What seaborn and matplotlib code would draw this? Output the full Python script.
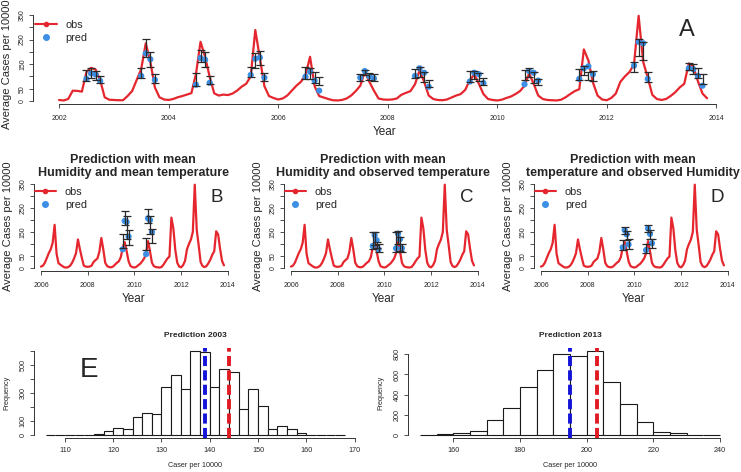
import numpy as np
import pandas as pd
import matplotlib
matplotlib.use("Agg")
import matplotlib.pyplot as plt
import seaborn as sns
from matplotlib.lines import Line2D

sns.set_style("ticks")
plt.rcParams['font.family'] = ['Liberation Sans', 'DejaVu Sans']

RED = "#e6262e"
BLUE = "#3b8fe5"

# observed monthly average cases per 10000, Jan 2002 - Nov 2013
obs = [4, 2, 8, 42, 41, 38, 118, 135, 128, 85, 15, 5,       # 2002
       4, 3, 3, 20, 40, 85, 130, 235, 160, 55, 15, 6,       # 2003
       4, 8, 15, 20, 26, 32, 110, 241, 180, 99, 31, 22,     # 2004
       26, 24, 30, 42, 58, 70, 100, 289, 175, 60, 20, 12,   # 2005
       6, 10, 22, 42, 62, 78, 105, 180, 60, 20, 14, 8,      # 2006
       3, 2, 4, 10, 22, 40, 62, 119, 78, 42, 10, 6,         # 2007
       5, 6, 10, 25, 33, 40, 68, 125, 78, 22, 8, 4,         # 2008
       3, 6, 14, 22, 28, 45, 85, 108, 70, 28, 8, 4,         # 2009
       2, 5, 12, 18, 28, 40, 62, 112, 70, 22, 8, 4,         # 2010
       3, 2, 5, 15, 28, 40, 48, 210, 165, 75, 22, 6,        # 2011
       3, 12, 30, 78, 100, 118, 150, 347, 160, 95, 25, 8,   # 2012
       4, 8, 20, 35, 55, 70, 153, 140, 80, 30, 11]          # 2013

pred_months = [7, 8, 9, 10]

# panel A: predictions Jul-Oct for each year 2002-2013
pred_years_a = list(range(2002, 2014))
pred_a = [90, 112, 108, 82,  102, 194, 170, 86,  66, 175, 168, 74,  106, 172, 177, 95,
          99, 119, 83, 42,  95, 122, 100, 92,  102, 133, 115, 58,  79, 115, 109, 73,
          68, 122, 115, 83,  90, 133, 141, 109,  144, 241, 235, 90,  133, 129, 102, 62]
lo_a = [80, 94, 86, 72,  92, 180, 140, 72,  62, 160, 140, 68,  96, 133, 147, 83,
        90, 88, 72, 63,  82, 105, 85, 80,  92, 99, 79, 56,  78, 88, 80, 65,
        85, 99, 75, 65,  85, 106, 85, 83,  119, 183, 167, 79,  126, 110, 92, 69]
hi_a = [126, 133, 123, 102,  136, 251, 200, 110,  113, 208, 198, 102,  137, 197, 205, 115,
        140, 133, 119, 96,  110, 128, 112, 108,  129, 140, 119, 85,  122, 123, 113, 92,
        126, 133, 120, 90,  129, 142, 119, 122,  160, 251, 241, 119,  156, 151, 133, 110]

# panels B-D: predictions for 2009 and 2010
pred_years_bcd = [2009, 2010]
pred_b = [78, 196, 192, 131,  58, 207, 200, 150]
lo_b = [82, 180, 120, 96,  75, 186, 140, 103]
hi_b = [140, 237, 215, 160,  126, 244, 215, 161]
pred_c = [92, 137, 116, 78,  82, 143, 120, 82]
lo_c = [80, 95, 85, 65,  65, 100, 70, 65]
hi_c = [148, 150, 110, 100,  150, 155, 130, 100]
pred_d = [86, 158, 140, 98,  75, 165, 142, 103]
lo_d = [75, 140, 115, 80,  62, 150, 120, 85]
hi_d = [118, 172, 155, 120,  98, 178, 160, 120]

titles_bcd = ["Prediction with mean\nHumidity and mean temperature",
              "Prediction with mean\nHumidity and observed temperature",
              "Prediction with mean\ntemperature and observed Humidity"]

# histograms of simulated predictions
bins_2003 = list(range(106, 170, 2))
counts_2003 = [1, 0, 1, 3, 2, 5, 26, 48, 45, 127, 155, 148, 344, 428, 328, 601,
               598, 342, 474, 450, 184, 328, 206, 41, 62, 41, 12, 3, 3, 1, 1]
mean_2003, obs_2003 = 139.0, 144.0
bins_2013 = list(range(150, 245, 5))
counts_2013 = [4, 6, 16, 40, 145, 264, 479, 648, 800, 780, 833, 529, 304, 126, 33, 17, 3, 2]
mean_2013, obs_2013 = 195.0, 203.2

dates = pd.date_range("2002-01-01", periods=len(obs), freq="MS")
df = pd.DataFrame({"t": dates.year + (dates.month - 1) / 12, "obs": obs})

W, H = 741, 472
fig = plt.figure(figsize=(W / 100, H / 100), dpi=100)


def add_ax(l, t, r, b):
    return fig.add_axes([l / W, 1 - b / H, (r - l) / W, (b - t) / H])


def r_style(ax, xb, yb, xt, yt, ytl, fs=5, xpad=4.5):
    sns.despine(ax=ax)
    ax.spines["bottom"].set_bounds(*xb)
    ax.spines["left"].set_bounds(*yb)
    for s in ("bottom", "left"):
        ax.spines[s].set_linewidth(0.7)
        ax.spines[s].set_color("#333333")
    ax.set_xticks(list(xt))
    ax.set_yticks(list(yt))
    ax.set_yticklabels(ytl, rotation=90, va="center")
    ax.tick_params(axis="x", length=3, width=0.6, labelsize=fs, pad=xpad, color="#333333")
    ax.tick_params(axis="y", length=3, width=0.6, labelsize=fs, pad=2, color="#333333")


def ts_panel(ax, data, years, pred, lo, hi):
    sns.lineplot(data=data, x="t", y="obs", color=RED, lw=1.6, ax=ax)
    px = [y + (m - 1) / 12 for y in years for m in pred_months]
    lo, hi = np.array(lo), np.array(hi)
    mid = (lo + hi) / 2
    sns.scatterplot(x=px, y=pred, color=BLUE, s=20, edgecolor="none", zorder=4, ax=ax)
    ax.errorbar(px, mid, yerr=(hi - lo) / 2, fmt="none", ecolor="#2a2a2a",
                elinewidth=0.9, capsize=2.8, capthick=0.9, zorder=5)
    ax.set_ylim(-14, 364)
    ax.set_ylabel("Average Cases per 10000", fontsize=8)
    ax.set_xlabel("Year", fontsize=8.5)


def legend(ax, l, t):
    h = [Line2D([], [], color=RED, lw=1.5, marker="o", ms=3),
         Line2D([], [], color=BLUE, lw=0, marker="o", ms=4)]
    ax.legend(h, ["obs", "pred"], loc="upper left", bbox_to_anchor=(l / W, 1 - t / H),
              bbox_transform=fig.transFigure, frameon=False, fontsize=7.8,
              handlelength=2.0, handletextpad=0.8, labelspacing=0.25,
              borderaxespad=0, borderpad=0)


ylab_ts = ["0", "50", "", "150", "", "250", "", "350"]

# Panel A
ax = add_ax(33, 11.6, 737, 104.4)
ts_panel(ax, df, pred_years_a, pred_a, lo_a, hi_a)
ax.set_xlim(2001.524, 2014.38)
r_style(ax, (2002, 2014), (0, 350), range(2002, 2015, 2), range(0, 351, 50), ylab_ts)
ax.yaxis.set_label_coords(-21 / 704, 0.43)
ax.xaxis.labelpad = 3
legend(ax, 35, 20)
fig.text(687 / W, 1 - 30 / H, "A", fontsize=17, ha="center", va="center")

# Panels B-D
sub = df[df["t"] >= 2006]
lefts = [33.6, 283.6, 533.6]
letters = ["B", "C", "D"]
letter_x = [217, 467, 717]
preds = [(pred_b, lo_b, hi_b), (pred_c, lo_c, hi_c), (pred_d, lo_d, hi_d)]
for i in range(3):
    l = lefts[i]
    ax = add_ax(l, 180.6, l + 199.4, 271.4)
    ts_panel(ax, sub, pred_years_bcd, *preds[i])
    ax.set_xlim(2005.684, 2014.22)
    r_style(ax, (2006, 2014), (0, 350), range(2006, 2015, 2), range(0, 351, 50), ylab_ts)
    ax.yaxis.set_label_coords(-21 / 199.4, 0.5)
    ax.xaxis.labelpad = 3
    ax.set_title(titles_bcd[i], fontsize=9, fontweight="bold", pad=3)
    legend(ax, l + 1, 187)
    fig.text(letter_x[i] / W, 1 - 198 / H, letters[i], fontsize=13.5, ha="center", va="center")


def hist_panel(ax, bins, counts, mean_v, obs_v, title):
    centers = [(a + b) / 2 for a, b in zip(bins[:-1], bins[1:])]
    hd = pd.DataFrame({"x": centers, "n": counts})
    sns.histplot(data=hd, x="x", weights="n", bins=bins, color="white", edgecolor="#1a1a1a",
                 linewidth=0.8, alpha=1, ax=ax)
    ax.axvline(mean_v, color="#1414d8", lw=2.8, dashes=(2.6, 1.1), zorder=5)
    ax.axvline(obs_v, color="#e01b24", lw=2.8, dashes=(2.6, 1.1), zorder=5)
    ax.set_title(title, fontsize=6, fontweight="bold", pad=8)
    ax.set_xlabel("Caser per 10000", fontsize=5.2, labelpad=6)
    ax.set_ylabel("Frequency", fontsize=5.2, labelpad=7)


# Panel E
ax = add_ax(33.6, 348, 357, 438.3)
hist_panel(ax, bins_2003, counts_2003, mean_2003, obs_2003, "Prediction 2003")
ax.set_xlim(103.52, 170.48)
ax.set_ylim(-24, 624)
r_style(ax, (110, 170), (0, 600), range(110, 171, 10), range(0, 601, 100),
        ["0", "100", "", "300", "", "500", ""], fs=5.2, xpad=3)
fig.text(89 / W, 1 - 370 / H, "E", fontsize=20, ha="center", va="center")

# Panel F
ax = add_ax(408, 347.7, 732, 438.3)
hist_panel(ax, bins_2013, counts_2013, mean_2013, obs_2013, "Prediction 2013")
ax.set_xlim(146.4, 243.6)
ax.set_ylim(-33.3, 866)
r_style(ax, (160, 240), (0, 800), range(160, 241, 20), range(0, 801, 200),
        ["0", "200", "400", "600", "800"], fs=5.2, xpad=3)

fig.savefig("out.png", dpi=100)
